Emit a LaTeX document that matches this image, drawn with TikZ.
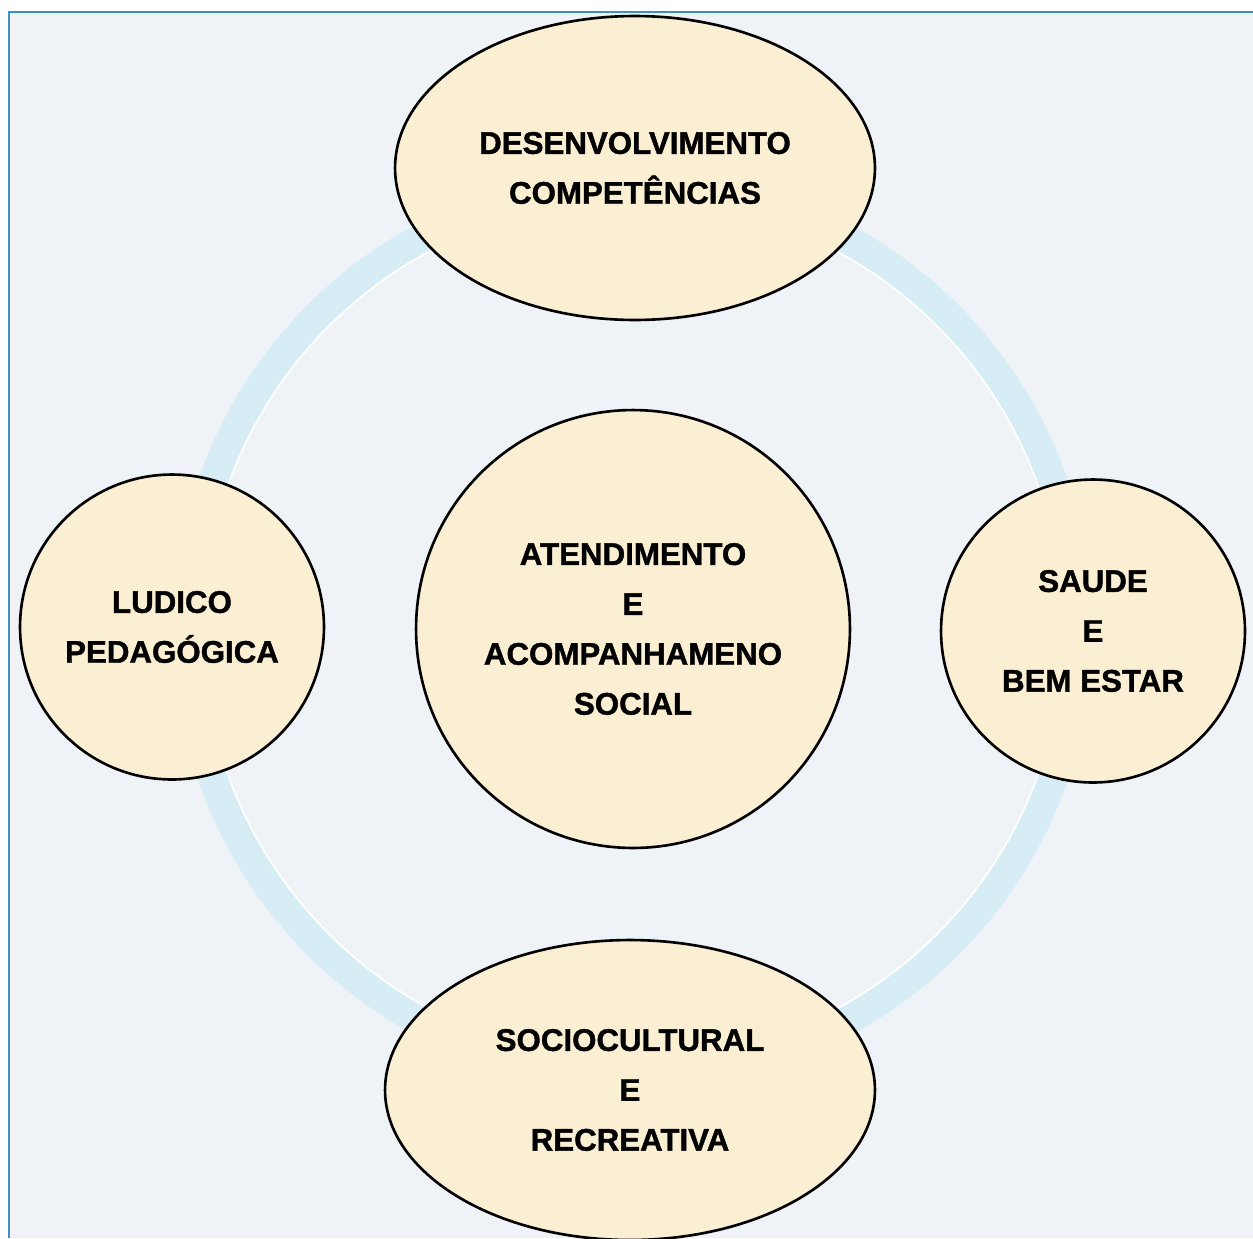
\documentclass[tikz,border=0pt]{standalone}
\usepackage{fontspec}
\setmainfont{Liberation Sans}
\usepackage{tikz}
\usetikzlibrary{shapes.geometric}
\definecolor{bubblefill}{HTML}{FAEED3}
\definecolor{ringblue}{HTML}{D6EDF6}
\definecolor{framebg}{HTML}{EFF2F7}
\definecolor{frameline}{HTML}{3D8FC6}

\begin{document}
\begin{tikzpicture}[x=0.02cm,y=-0.02cm,
  bubble/.style={ellipse,draw=black,line width=1.5pt,fill=bubblefill,inner sep=0pt,align=center,
    font=\fontsize{17.8}{28.4}\selectfont\bfseries\addfontfeature{FakeBold=1.3}}]
\clip (0,0) rectangle (1253,1238);
\fill[white] (0,0) rectangle (1253,1238);
\fill[framebg] (9,12) rectangle (1253,1238);
\draw[frameline,line width=1.2pt] (9,1238) -- (9,12) -- (1253,12);
% ring behind the bubbles
\coordinate (hub) at (633,630);
\draw[ringblue,line width=0.6cm] (hub) circle[radius=8.9cm];
\draw[white,line width=1pt] (hub) circle[radius=8.6cm];

\node[bubble,minimum width=9.6cm,minimum height=6.08cm] (dev) at (635,168) {DESENVOLVIMENTO\\COMPETÊNCIAS};
\node[bubble,minimum width=8.68cm,minimum height=8.76cm] (atend) at (633,629) {ATENDIMENTO\\E\\ACOMPANHAMENO\\SOCIAL};
\node[bubble,minimum width=6.08cm,minimum height=6.1cm] (ludico) at (172,627) {LUDICO\\PEDAGÓGICA};
\node[bubble,minimum width=6.08cm,minimum height=6.06cm] (saude) at (1093,631) {SAUDE\\E\\BEM ESTAR};
\node[bubble,minimum width=9.8cm,minimum height=6cm] (socio) at (630,1090) {SOCIOCULTURAL\\E\\RECREATIVA};

\end{tikzpicture}
\end{document}
